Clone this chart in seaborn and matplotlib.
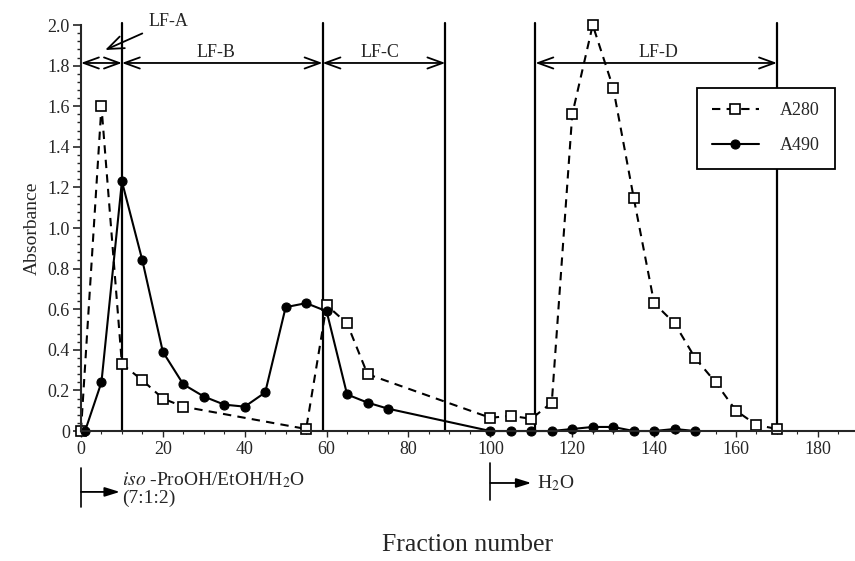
import matplotlib
matplotlib.use('Agg')
import matplotlib.pyplot as plt
import seaborn as sns
import numpy as np
from matplotlib.ticker import MultipleLocator

# Data
frac_a280 = [0, 5, 10, 15, 20, 25, 55, 60, 65, 70, 100, 105, 110, 115, 120, 125,
             130, 135, 140, 145, 150, 155, 160, 165, 170]
a280 = [0.0, 1.60, 0.33, 0.25, 0.16, 0.12, 0.01, 0.62, 0.53, 0.28, 0.065, 0.075, 0.06,
        0.14, 1.56, 2.0, 1.69, 1.15, 0.63, 0.53, 0.36, 0.24, 0.10, 0.03, 0.01]

frac_a490 = [1, 5, 10, 15, 20, 25, 30, 35, 40, 45, 50, 55, 60, 65, 70, 75, 100, 105,
             110, 115, 120, 125, 130, 135, 140, 145, 150]
a490 = [0.0, 0.24, 1.23, 0.84, 0.39, 0.23, 0.17, 0.13, 0.12, 0.19, 0.61, 0.63, 0.59,
        0.18, 0.14, 0.11, 0.0, 0.0, 0.0, 0.0, 0.01, 0.02, 0.02, 0.0, 0.0, 0.01, 0.0]

# fraction boundaries and pooled fractions
boundaries = [10, 59, 89, 111, 170]
pool_names = ['LF-A', 'LF-B', 'LF-C', 'LF-D']
pool_start = [0, 10, 59, 111]
pool_end = [10, 59, 89, 170]
pool_label_x = [None, 33, 73, 141]

xticks = [0, 20, 40, 60, 80, 100, 120, 140, 160, 180]
yticks = [0, 0.2, 0.4, 0.6, 0.8, 1.0, 1.2, 1.4, 1.6, 1.8, 2.0]
ytick_labels = ['0', '0.2', '0.4', '0.6', '0.8', '1.0', '1.2', '1.4', '1.6', '1.8', '2.0']

sns.set_style('ticks')
plt.rcParams['font.family'] = ['Liberation Serif', 'DejaVu Serif']
plt.rcParams['mathtext.fontset'] = 'stix'

fig = plt.figure(figsize=(8.55, 5.61), dpi=100)
ax = fig.add_axes([0.0947, 0.2317, 0.905, 0.7237])

sns.lineplot(x=frac_a280, y=a280, ax=ax, color='black', linestyle=(0, (4, 3)),
             linewidth=1.5, marker='s', markersize=7, markerfacecolor='white',
             markeredgecolor='black', markeredgewidth=1.2, label='A280', clip_on=False)
sns.lineplot(x=frac_a490, y=a490, ax=ax, color='black', linestyle='-',
             linewidth=1.5, marker='o', markersize=6.5, markerfacecolor='black',
             markeredgecolor='black', markeredgewidth=0.8, label='A490', clip_on=False)

# vertical boundary lines
for b in boundaries:
    ax.plot([b, b], [0, 2.01], color='black', linewidth=1.6, zorder=1, clip_on=False)

# double arrows for pools
arrow_y = 1.813
for name, s, e, lx in zip(pool_names, pool_start, pool_end, pool_label_x):
    ax.annotate('', xy=(e, arrow_y), xytext=(s, arrow_y),
                arrowprops=dict(arrowstyle='<->,head_length=1.1,head_width=0.4',
                                color='black', lw=1.3, shrinkA=0, shrinkB=0))
    if lx is not None:
        ax.text(lx, 1.865, name, ha='center', va='center', fontsize=13)

ax.annotate('LF-A', xy=(5.9, 1.877), xytext=(16.4, 2.015),
            ha='left', va='center', fontsize=13, annotation_clip=False,
            arrowprops=dict(arrowstyle='->,head_length=0.9,head_width=0.35',
                            color='black', lw=1.3, shrinkA=2, shrinkB=0))

# solvent annotations under the x axis
trans = ax.get_xaxis_transform()
ax.plot([0, 0], [-0.091, -0.187], color='black', lw=1.2, transform=trans, clip_on=False)
ax.annotate('', xy=(9.5, -0.150), xytext=(0, -0.150), xycoords=trans, textcoords=trans,
            arrowprops=dict(arrowstyle='-|>,head_length=0.9,head_width=0.28',
                            color='black', lw=1.3, shrinkA=0, shrinkB=0))
ax.text(10, -0.121, r'$\it{iso}$ -ProOH/EtOH/H$_2$O', transform=trans,
        ha='left', va='center', fontsize=14)
ax.text(10, -0.166, '(7:1:2)', transform=trans, ha='left', va='center', fontsize=14)

ax.plot([100, 100], [-0.079, -0.170], color='black', lw=1.2, transform=trans, clip_on=False)
ax.annotate('', xy=(110, -0.128), xytext=(100, -0.128), xycoords=trans, textcoords=trans,
            arrowprops=dict(arrowstyle='-|>,head_length=0.9,head_width=0.28',
                            color='black', lw=1.3, shrinkA=0, shrinkB=0))
ax.text(111.5, -0.128, 'H$_2$O', transform=trans, ha='left', va='center', fontsize=14)

ax.set_xlim(0, 189)
ax.set_ylim(0, 2.0)
ax.set_xticks(xticks)
ax.set_yticks(yticks)
ax.set_yticklabels(ytick_labels)
ax.yaxis.set_minor_locator(MultipleLocator(0.04))
ax.xaxis.set_minor_locator(MultipleLocator(5))
ax.tick_params(axis='y', which='major', length=6, width=1.2, labelsize=13, pad=2)
ax.tick_params(axis='y', which='minor', length=3, width=1)
ax.tick_params(axis='x', which='major', length=4, width=1, labelsize=13, pad=3)
ax.tick_params(axis='x', which='minor', length=2, width=0.8)
ax.set_xlabel('Fraction number', fontsize=18.5, labelpad=55)
ax.set_ylabel('Absorbance', fontsize=14, labelpad=5)

for side in ['top', 'right']:
    ax.spines[side].set_visible(False)
ax.spines['left'].set_linewidth(1.5)
ax.spines['bottom'].set_linewidth(1.5)

leg = ax.legend(loc='upper right', bbox_to_anchor=(0.974, 0.845), borderaxespad=0,
                fancybox=False, frameon=True, edgecolor='black', framealpha=1,
                fontsize=13, handlelength=2.6, borderpad=0.8, labelspacing=1.0,
                handletextpad=1.2)
leg.get_frame().set_linewidth(1.3)
leg.set_zorder(5)

fig.savefig('out.png', dpi=100)
